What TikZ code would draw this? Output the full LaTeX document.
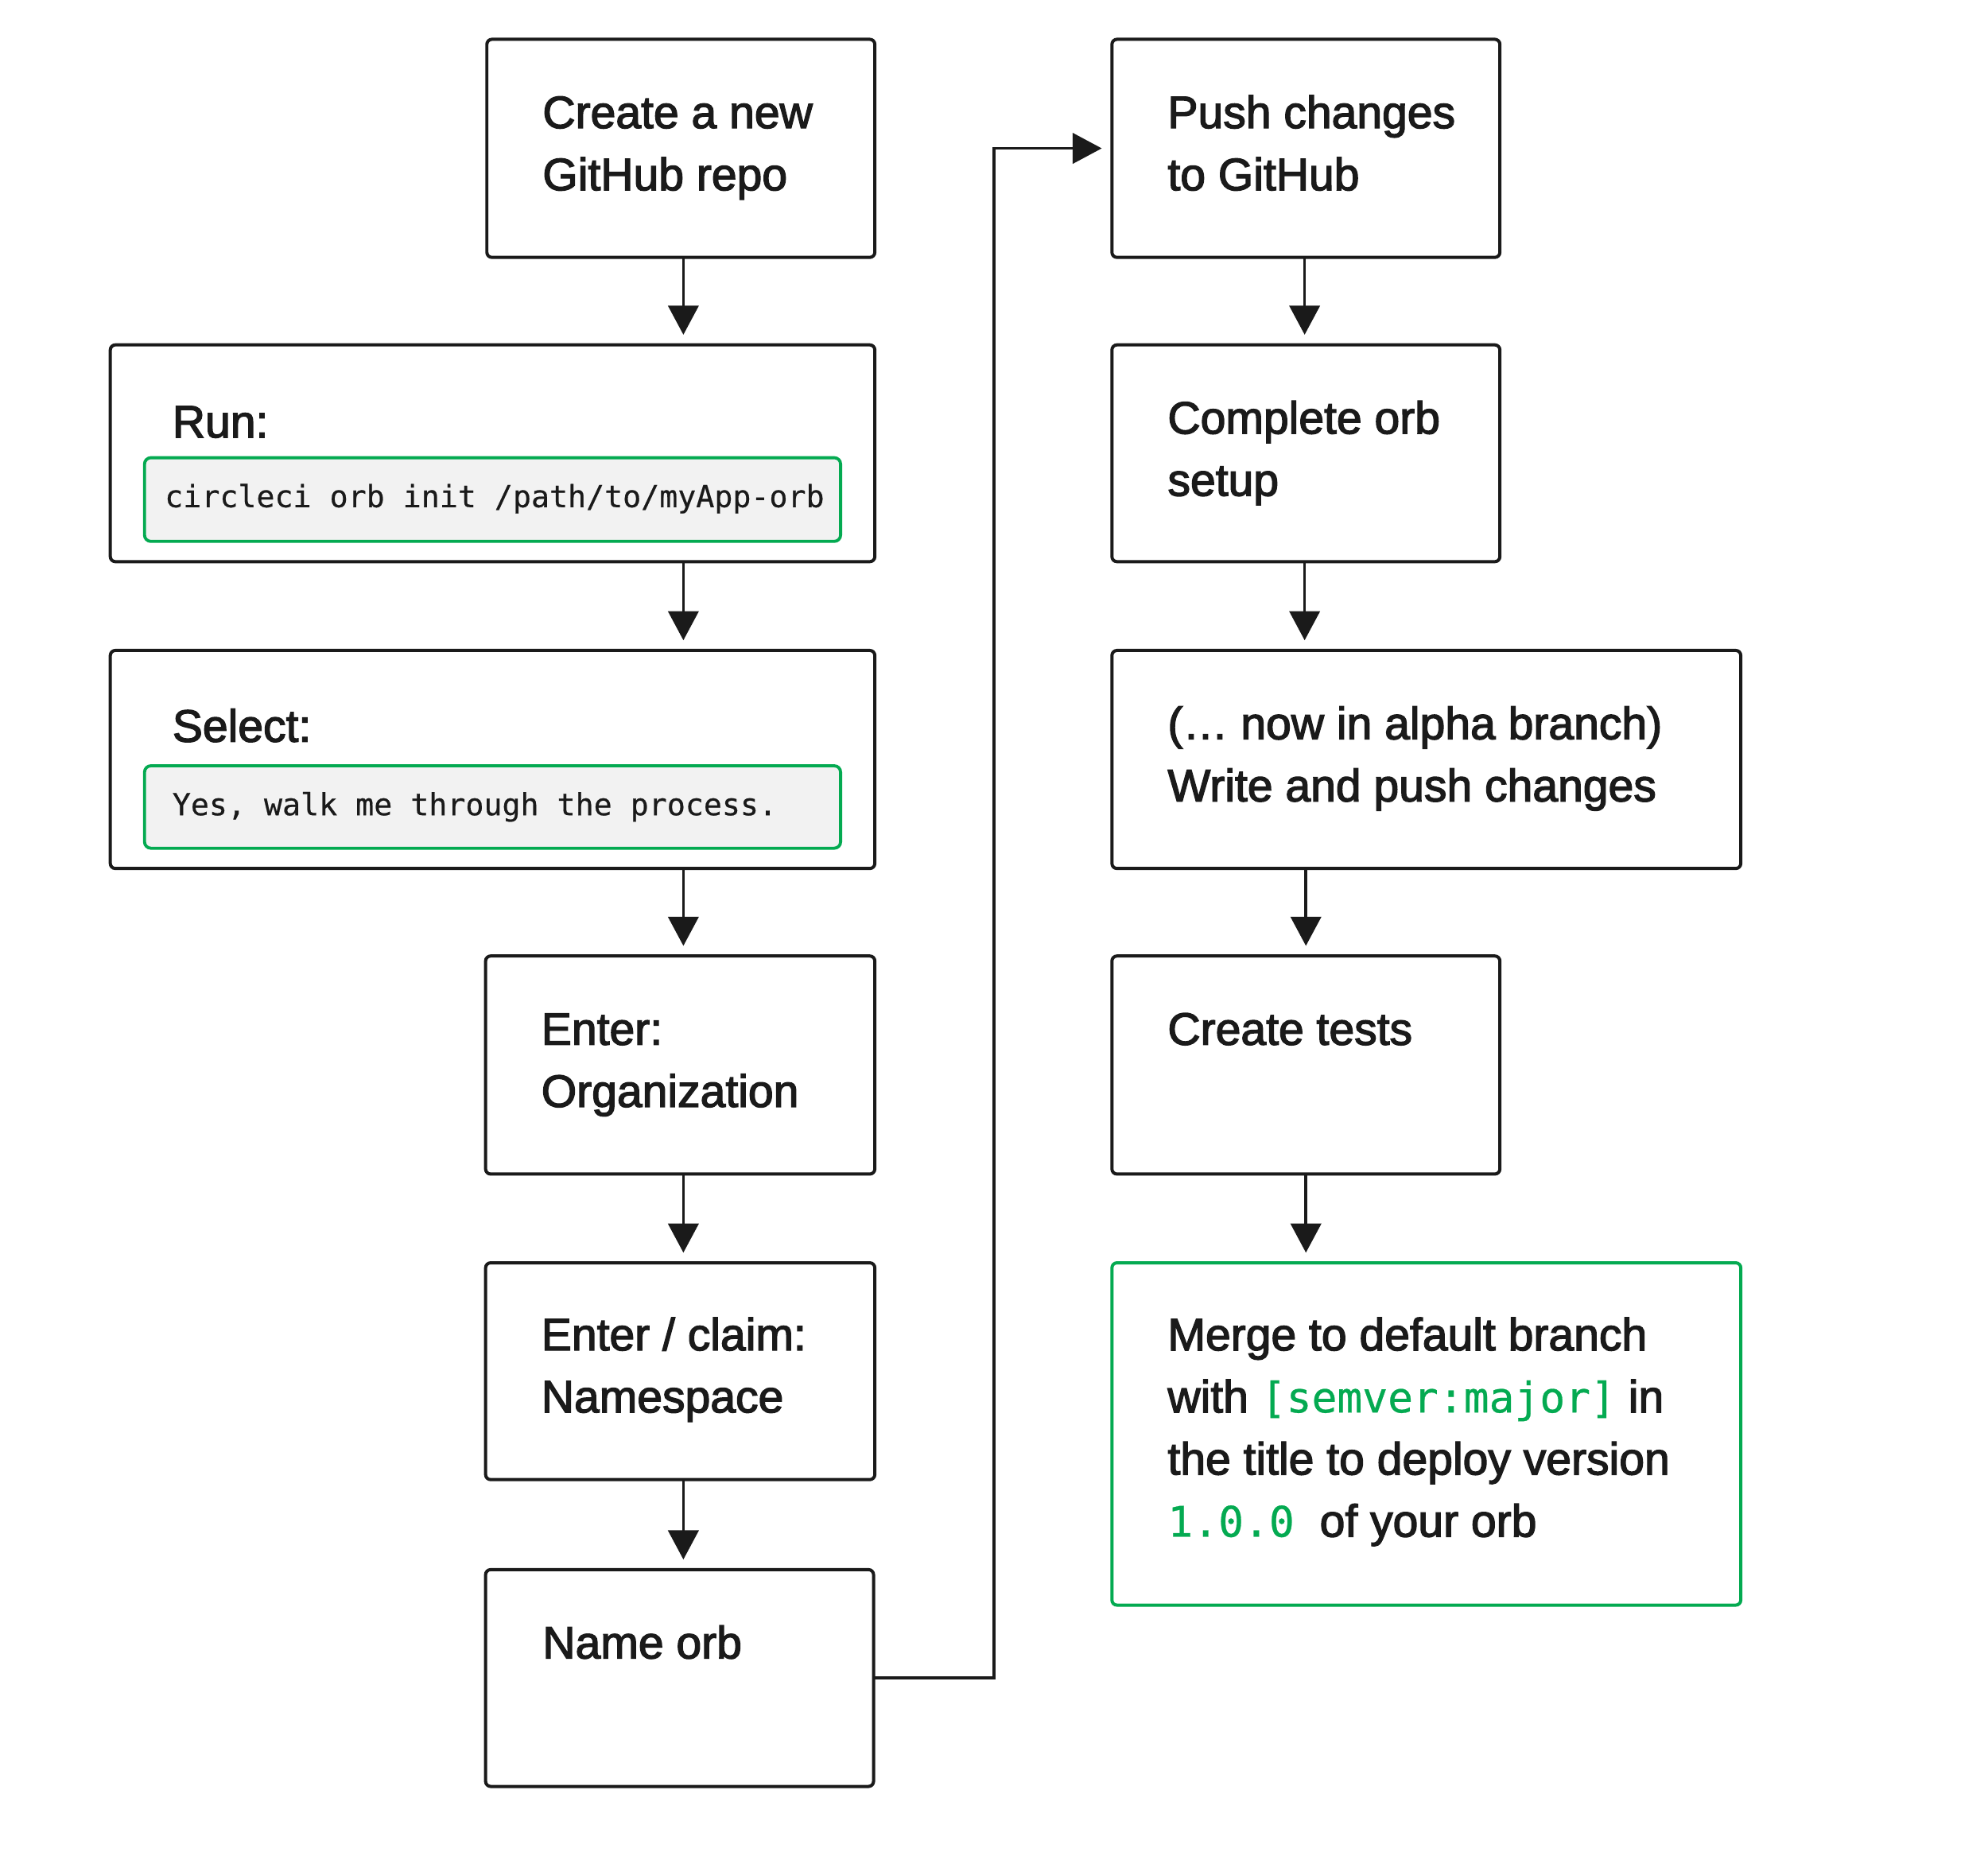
\documentclass[tikz,border=0pt]{standalone}
\usepackage{fontspec}
\usetikzlibrary{arrows.meta}
\newfontfamily\sansmed{Liberation Sans}[FakeBold=2.4]
\newfontfamily\codefont{DejaVu Sans Mono}[FakeBold=0.5]
\definecolor{lineblack}{HTML}{1A1A1A}
\definecolor{cgreen}{RGB}{4,170,81}
\definecolor{codegray}{HTML}{F2F2F2}
\newcommand{\gcode}{\color{cgreen}\codefont\fontsize{16.6pt}{24.5pt}\selectfont}
\begin{document}
\begin{tikzpicture}[x=0.5pt,y=-0.5pt,
  box/.style={draw=lineblack, line width=1.25pt, rounded corners=2pt, anchor=north west, inner sep=0pt, outer sep=0pt, minimum height=86pt},
  gbox/.style={box, draw=cgreen},
  codebox/.style={draw=cgreen, fill=codegray, line width=1.2pt, rounded corners=2.5pt, anchor=north west, inner sep=0pt, outer sep=0pt},
  txt/.style={anchor=north west, inner sep=0pt, outer sep=0pt, align=left, text=lineblack, font=\sansmed\fontsize{17.9pt}{24.5pt}\selectfont},
  code/.style={anchor=base west, inner sep=0pt, outer sep=0pt, text=lineblack, font=\codefont\fontsize{12pt}{14pt}\selectfont},
  arr/.style={draw=lineblack, line width=1.1pt, -{Triangle[width=12pt,length=11.5pt]}, shorten >=4pt}]
\useasboundingbox[fill=white] (0,0) rectangle (1568,1463.5);
% column coordinates
\coordinate (colL) at (539,0);
\coordinate (colR) at (1029,0);
\coordinate (colR2) at (1030,0);
\coordinate (bend) at (784,0);
% left column boxes
\node[box, minimum width=153pt] (b1) at (384,31) {};
\node[box, minimum width=301.5pt, minimum height=85.5pt] (b2) at (87,272) {};
\node[box, minimum width=301.5pt] (b3) at (87,513) {};
\node[box, minimum width=153.5pt] (b4) at (383,754) {};
\node[box, minimum width=153.5pt, minimum height=85.5pt] (b5) at (383,996) {};
\node[box, minimum width=153pt, minimum height=85.5pt] (b6) at (383,1238) {};
% inner code boxes
\node[codebox, minimum width=274.5pt, minimum height=33pt] (c1) at (114,361) {};
\node[codebox, minimum width=274.5pt, minimum height=32.5pt] (c2) at (114,604) {};
% right column boxes
\node[box, minimum width=153pt] (r1) at (877,31) {};
\node[box, minimum width=153pt, minimum height=85.5pt] (r2) at (877,272) {};
\node[box, minimum width=248pt] (r3) at (877,513) {};
\node[box, minimum width=153pt] (r4) at (877,754) {};
\node[gbox, minimum width=248pt, minimum height=135pt] (r5) at (877,996) {};
% texts
\node[txt] (t1) at (428,66.7) {\strut Create a new\\GitHub repo};
\node[txt] (t2) at (136,310.7) {\strut Run:};
\node[code] (k1) at (130,400) {circleci orb init /path/to/myApp-orb};
\node[txt] (t3) at (136,550.7) {\strut Select:};
\node[code] (k2) at (136,643) {Yes, walk me through the process.};
\node[txt] (t4) at (427,789.7) {\strut Enter:\\Organization};
\node[txt] (t5) at (427,1030.7) {\strut Enter / claim:\\Namespace};
\node[txt] (t6) at (428,1273.7) {\strut Name orb};
\node[txt] (u1) at (921,66.7) {\strut Push changes\\to GitHub};
\node[txt] (u2) at (921,307.7) {\strut Complete orb\\setup};
\node[txt] (u3) at (921,548.7) {\strut (\dots\ now in alpha branch)\\Write and push changes};
\node[txt] (u4) at (921,789.7) {\strut Create tests};
\node[txt] (u5) at (921,1030.7) {\strut Merge to default branch\\with {\gcode[semver:major]} in\\the title to deploy version\\{\gcode 1.0.0~}of your orb};
% connectors
\draw[arr] (b1.south -| colL) -- (b2.north -| colL);
\draw[arr] (b2.south -| colL) -- (b3.north -| colL);
\draw[arr] (b3.south -| colL) -- (b4.north -| colL);
\draw[arr] (b4.south -| colL) -- (b5.north -| colL);
\draw[arr] (b5.south -| colL) -- (b6.north -| colL);
\draw[arr] (b6.east) -- (b6.east -| bend) -- (r1.west -| bend) -- (r1.west);
\draw[arr] (r1.south -| colR) -- (r2.north -| colR);
\draw[arr] (r2.south -| colR) -- (r3.north -| colR);
\draw[arr] (r3.south -| colR2) -- (r4.north -| colR2);
\draw[arr] (r4.south -| colR2) -- (r5.north -| colR2);
\end{tikzpicture}
\end{document}
